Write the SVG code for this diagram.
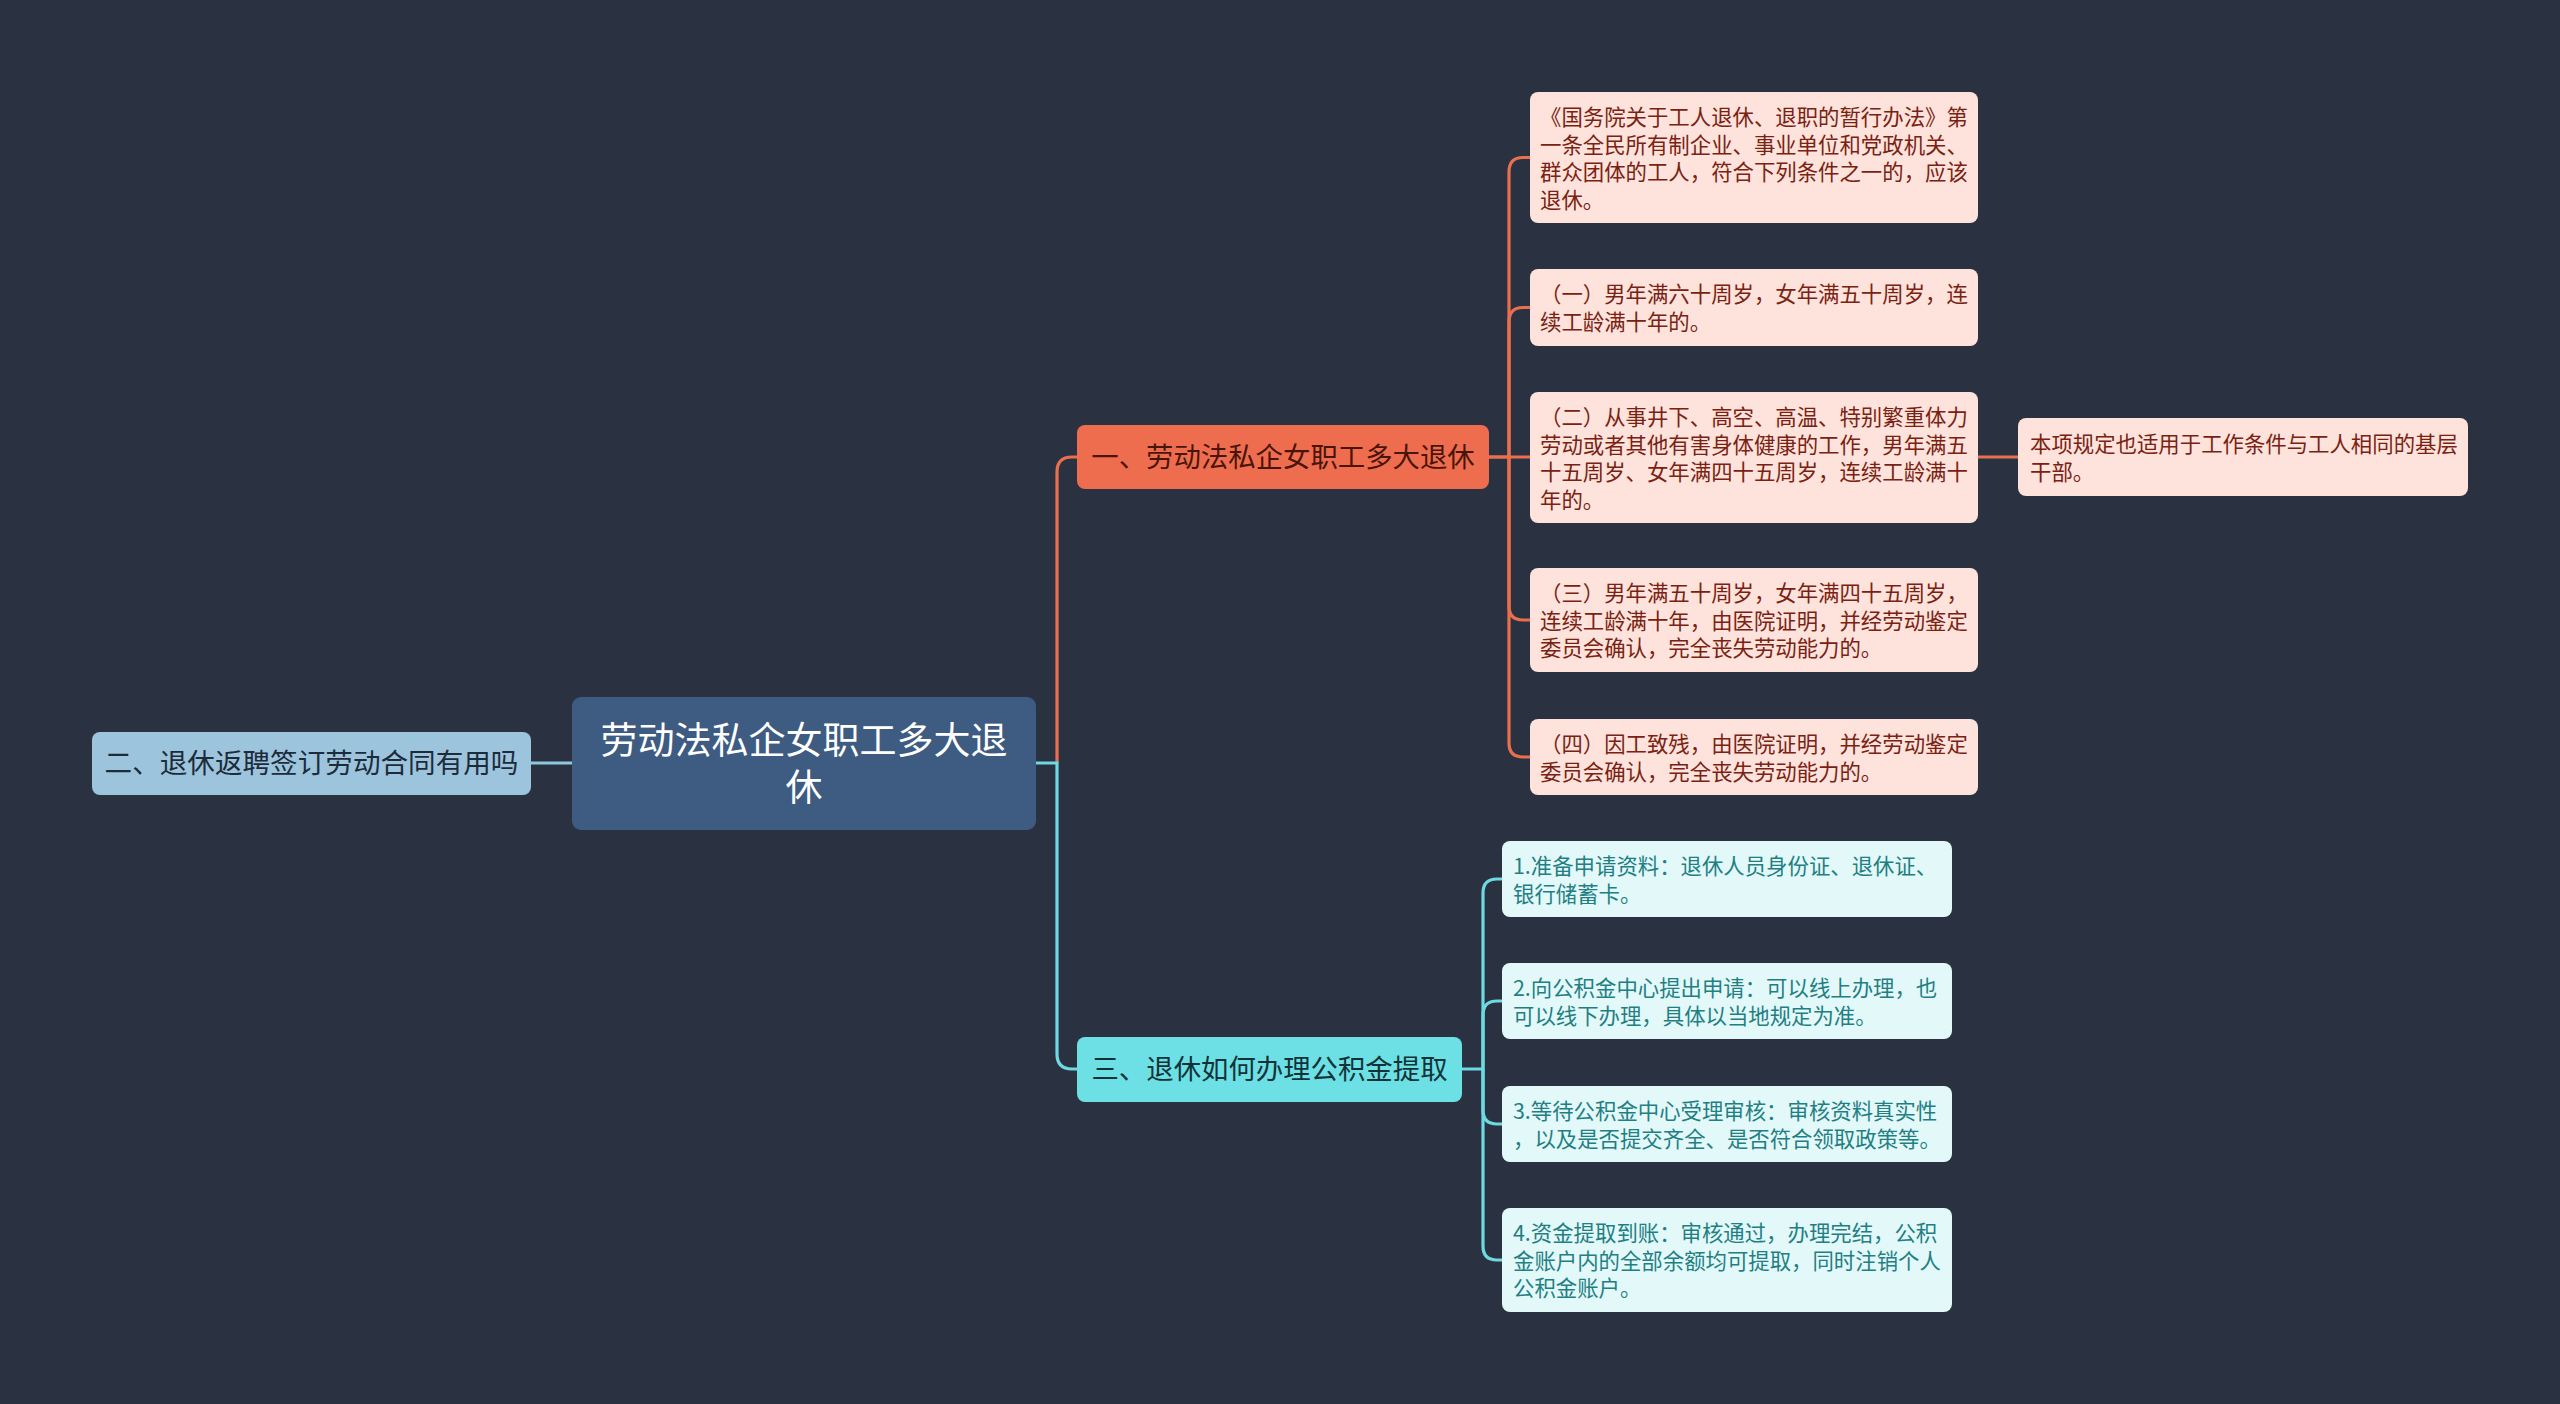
<svg xmlns="http://www.w3.org/2000/svg" width="2560" height="1404" viewBox="0 0 2560 1404">
<style>
text{font-family:"Noto Sans CJK SC","Noto Sans",sans-serif;}
.lo{fill:none;stroke:#e8704f;stroke-width:3.2;}
.lc{fill:none;stroke:#6ed9e1;stroke-width:3.2;}
.lb{fill:none;stroke:#8fc8dc;stroke-width:3.2;}
.leafo rect{fill:#fde3dc;}
.leafo text{fill:#7a2212;font-size:21.4px;}
.leafc rect{fill:#e2f8f9;}
.leafc text{fill:#1f7f83;font-size:21.4px;}
</style>
<rect width="2560" height="1404" fill="#2a3140"/>
<g id="connectors">
  <path class="lb" d="M531,763 H572"/>
  <path class="lo" d="M1057,763 V472 Q1057,457 1072,457 H1077"/>
  <path class="lc" d="M1036,763 H1057 V1054 Q1057,1069 1072,1069 H1077"/>
  <path class="lo" d="M1489,457 H1509 V172 Q1509,157.5 1523,157.5 H1530"/>
  <path class="lo" d="M1509,457 V322 Q1509,307.5 1523,307.5 H1530"/>
  <path class="lo" d="M1489,457 H1530"/>
  <path class="lo" d="M1509,457 V606 Q1509,620 1523,620 H1530"/>
  <path class="lo" d="M1509,457 V743 Q1509,757 1523,757 H1530"/>
  <path class="lo" d="M1978,457 H2018"/>
  <path class="lc" d="M1462,1069 H1483 V893 Q1483,879 1497,879 H1502"/>
  <path class="lc" d="M1483,1069 V1015 Q1483,1001 1497,1001 H1502"/>
  <path class="lc" d="M1483,1069 V1110 Q1483,1124 1497,1124 H1502"/>
  <path class="lc" d="M1483,1069 V1246 Q1483,1260 1497,1260 H1502"/>
</g>
<g id="root">
  <rect x="572" y="697" width="464" height="133" rx="9" fill="#3e5b82"/>
  <text font-size="37" fill="#ffffff" text-anchor="middle"><tspan x="804" y="754">劳动法私企女职工多大退</tspan><tspan x="804" y="801">休</tspan></text>
</g>
<g id="node-left">
  <rect x="92" y="732" width="439" height="63" rx="8" fill="#9cc4dd"/>
  <text x="311.5" y="773" font-size="27.6" fill="#1d2b3b" text-anchor="middle">二、退休返聘签订劳动合同有用吗</text>
</g>
<g id="branch1">
  <rect x="1077" y="425" width="412" height="64" rx="8" fill="#ee6d4f"/>
  <text x="1283" y="467" font-size="27.4" fill="#4a1408" text-anchor="middle">一、劳动法私企女职工多大退休</text>
</g>
<g id="branch3">
  <rect x="1077" y="1037" width="385" height="65" rx="8" fill="#6de0e5"/>
  <text x="1269.5" y="1079" font-size="27.4" fill="#113338" text-anchor="middle">三、退休如何办理公积金提取</text>
</g>
<g id="leaf1-1" class="leafo">
  <rect x="1530" y="92" width="448" height="131" rx="8"/>
  <text x="1540" y="125">《国务院关于工人退休、退职的暂行办法》第</text>
  <text x="1540" y="152.5">一条全民所有制企业、事业单位和党政机关、</text>
  <text x="1540" y="180">群众团体的工人，符合下列条件之一的，应该</text>
  <text x="1540" y="207.5">退休。</text>
</g>
<g id="leaf1-2" class="leafo">
  <rect x="1530" y="269" width="448" height="77" rx="8"/>
  <text x="1540" y="302">（一）男年满六十周岁，女年满五十周岁，连</text>
  <text x="1540" y="329.5">续工龄满十年的。</text>
</g>
<g id="leaf1-3" class="leafo">
  <rect x="1530" y="392" width="448" height="131" rx="8"/>
  <text x="1540" y="425">（二）从事井下、高空、高温、特别繁重体力</text>
  <text x="1540" y="452.5">劳动或者其他有害身体健康的工作，男年满五</text>
  <text x="1540" y="480">十五周岁、女年满四十五周岁，连续工龄满十</text>
  <text x="1540" y="507.5">年的。</text>
</g>
<g id="leaf1-3-note" class="leafo">
  <rect x="2018" y="418" width="450" height="78" rx="8"/>
  <text x="2030" y="452">本项规定也适用于工作条件与工人相同的基层</text>
  <text x="2030" y="479.5">干部。</text>
</g>
<g id="leaf1-4" class="leafo">
  <rect x="1530" y="568" width="448" height="104" rx="8"/>
  <text x="1540" y="601">（三）男年满五十周岁，女年满四十五周岁，</text>
  <text x="1540" y="628.5">连续工龄满十年，由医院证明，并经劳动鉴定</text>
  <text x="1540" y="656">委员会确认，完全丧失劳动能力的。</text>
</g>
<g id="leaf1-5" class="leafo">
  <rect x="1530" y="719" width="448" height="76" rx="8"/>
  <text x="1540" y="752">（四）因工致残，由医院证明，并经劳动鉴定</text>
  <text x="1540" y="779.5">委员会确认，完全丧失劳动能力的。</text>
</g>
<g id="leaf3-1" class="leafc">
  <rect x="1502" y="841" width="450" height="76" rx="8"/>
  <text x="1513" y="874">1.准备申请资料：退休人员身份证、退休证、</text>
  <text x="1513" y="901.5">银行储蓄卡。</text>
</g>
<g id="leaf3-2" class="leafc">
  <rect x="1502" y="963" width="450" height="76" rx="8"/>
  <text x="1513" y="996">2.向公积金中心提出申请：可以线上办理，也</text>
  <text x="1513" y="1023.5">可以线下办理，具体以当地规定为准。</text>
</g>
<g id="leaf3-3" class="leafc">
  <rect x="1502" y="1086" width="450" height="76" rx="8"/>
  <text x="1513" y="1119">3.等待公积金中心受理审核：审核资料真实性</text>
  <text x="1513" y="1146.5">，以及是否提交齐全、是否符合领取政策等。</text>
</g>
<g id="leaf3-4" class="leafc">
  <rect x="1502" y="1208" width="450" height="104" rx="8"/>
  <text x="1513" y="1241">4.资金提取到账：审核通过，办理完结，公积</text>
  <text x="1513" y="1268.5">金账户内的全部余额均可提取，同时注销个人</text>
  <text x="1513" y="1296">公积金账户。</text>
</g>
</svg>
